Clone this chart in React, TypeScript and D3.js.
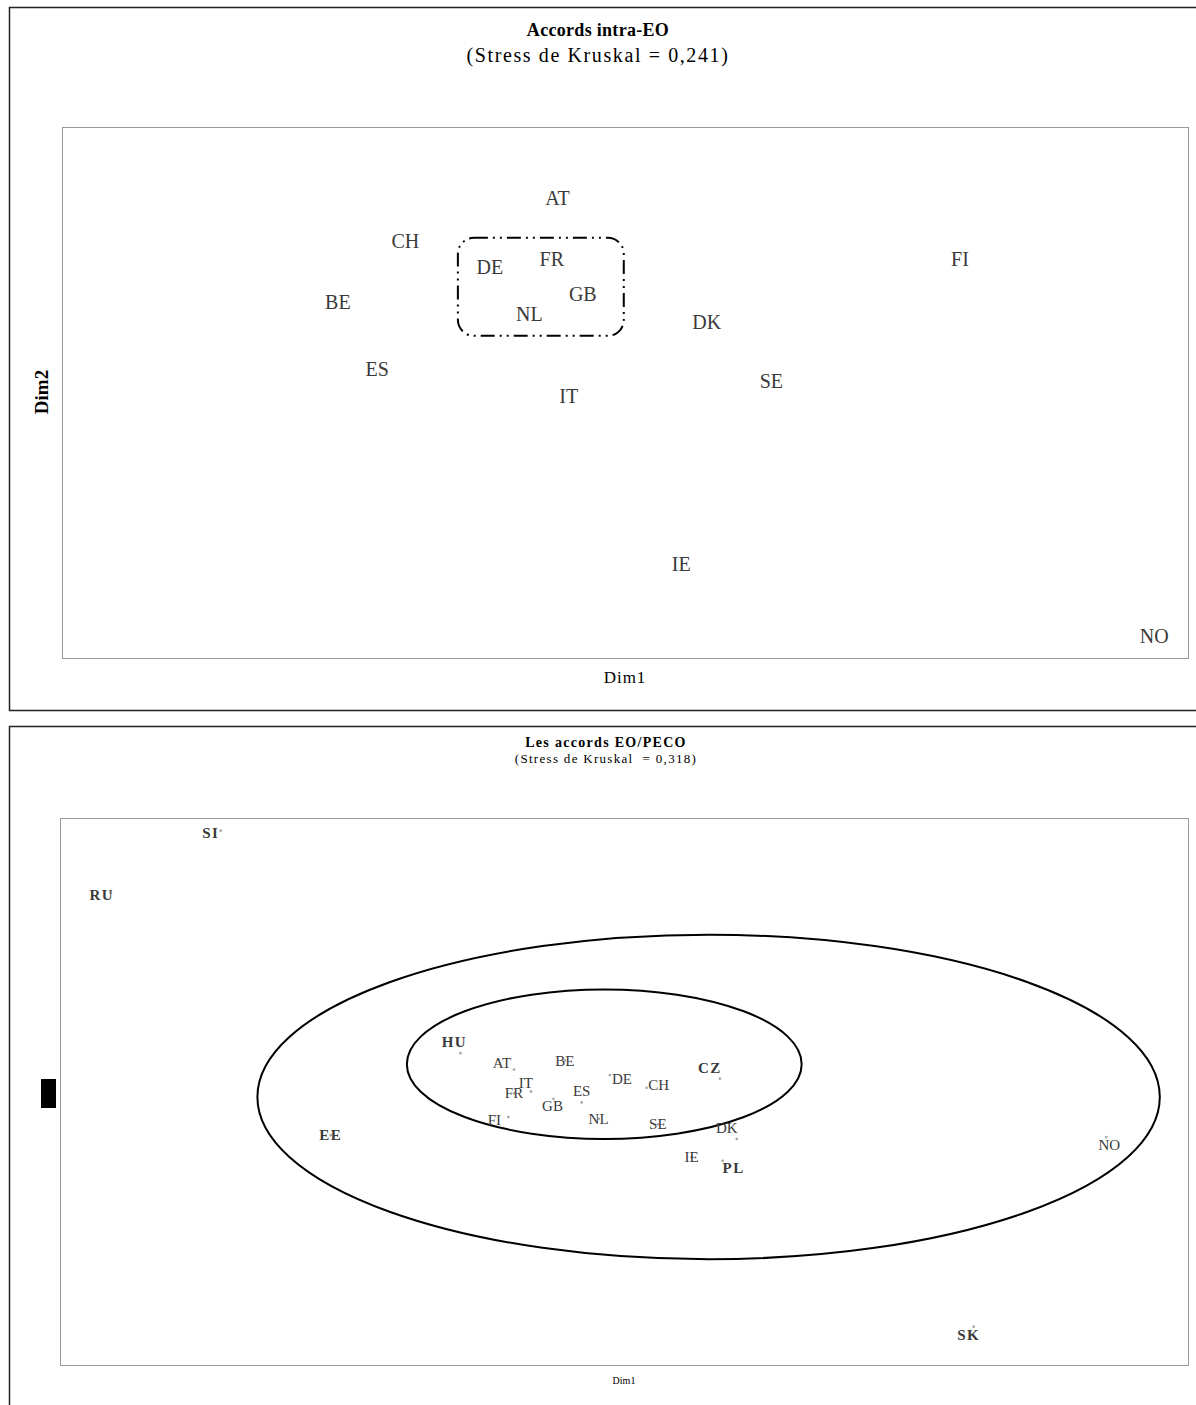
import React, { useEffect, useRef } from 'react';
import * as d3 from 'd3';

// ---- top panel: intra-EO agreements ----
const topNames = ['AT', 'CH', 'DE', 'FR', 'FI', 'BE', 'GB', 'NL', 'DK', 'ES', 'SE', 'IT', 'IE', 'NO'];
const topDim1 = [0.26, -0.28, 0.02, 0.24, 1.69, -0.52, 0.35, 0.16, 0.79, -0.38, 1.02, 0.30, 0.70, 2.38];
const topDim2 = [0.84, 0.62, 0.49, 0.53, 0.53, 0.31, 0.35, 0.25, 0.21, -0.03, -0.09, -0.17, -1.02, -1.39];
const topCluster = ['DE', 'FR', 'GB', 'NL'];

// ---- bottom panel: EO/PECO agreements ----
const botNames = ['SI', 'RU', 'HU', 'AT', 'BE', 'IT', 'FR', 'DE', 'CH', 'CZ', 'ES', 'GB', 'NL', 'SE', 'DK', 'FI', 'EE', 'IE', 'PL', 'NO', 'SK'];
const botDim1 = [-1.43, -1.82, -0.58, -0.39, -0.21, -0.33, -0.39, -0.05, 0.08, 0.34, -0.15, -0.25, -0.09, 0.12, 0.40, -0.41, -1.04, 0.24, 0.35, 1.71, 1.24];
const botDim2 = [1.43, 1.09, 0.21, 0.12, 0.17, 0.00, -0.01, 0.09, 0.02, 0.07, -0.06, -0.04, -0.15, -0.18, -0.26, -0.14, -0.24, -0.36, -0.38, -0.25, -1.29];
const pecoCountries = ['SI', 'RU', 'HU', 'CZ', 'EE', 'PL', 'SK'];
// label offsets from the point (px)
const botLabelDx = [-10, -9, -6, -12, 0, -5, 0, 12, 12, -10, 0, -1, 0, 0, -10, -14, 0, 0, 11, 3, -5];
const botLabelDy = [2, 2, -11, -7, 0, -9, 0, 4, -3, -11, -11, 7, 0, 0, -11, 3, 0, 0, 7, 8, 8];

// ellipses drawn around the groups (data units)
const ellCx = [0.30, -0.07];
const ellCy = [-0.03, 0.15];
const ellRx = [1.60, 0.70];
const ellRy = [0.89, 0.41];

const W = 1196;
const H = 1405;

export default function App() {
  const svgRef = useRef<SVGSVGElement>(null);

  useEffect(() => {
    if (!svgRef.current) return;
    const svg = d3.select(svgRef.current);
    svg.selectAll('*').remove();

    const serif = "'Liberation Serif', 'Times New Roman', serif";
    const labelColor = '#3a3a3a';

    // ========== TOP PANEL ==========
    const t = { left: 62, right: 1188, top: 127, bottom: 658 };
    const tx = d3.scaleLinear().domain([-1.5, 2.5]).range([t.left, t.right]);
    const ty = d3.scaleLinear().domain([-1.5, 1.2]).range([t.bottom, t.top]);

    // outer frame
    svg.append('rect')
      .attr('x', 9.5).attr('y', 7.5)
      .attr('width', 1200).attr('height', 703)
      .attr('fill', 'none').attr('stroke', '#222').attr('stroke-width', 1.5);

    svg.append('rect')
      .attr('x', t.left + 0.5).attr('y', t.top + 0.5)
      .attr('width', t.right - t.left).attr('height', t.bottom - t.top)
      .attr('fill', 'none').attr('stroke', '#999').attr('stroke-width', 1);

    svg.append('text')
      .attr('x', 598).attr('y', 36)
      .attr('text-anchor', 'middle')
      .attr('font-family', serif).attr('font-size', 18).attr('font-weight', 'bold')
      .attr('letter-spacing', 0.3)
      .text('Accords intra-EO');

    svg.append('text')
      .attr('x', 598).attr('y', 62)
      .attr('text-anchor', 'middle')
      .attr('font-family', serif).attr('font-size', 20)
      .attr('letter-spacing', 1.6)
      .text('(Stress de Kruskal = 0,241)');

    svg.append('text')
      .attr('transform', 'translate(48,392) rotate(-90)')
      .attr('text-anchor', 'middle')
      .attr('font-family', serif).attr('font-size', 19).attr('font-weight', 'bold')
      .text('Dim2');

    svg.append('text')
      .attr('x', (t.left + t.right) / 2).attr('y', 683)
      .attr('text-anchor', 'middle')
      .attr('font-family', serif).attr('font-size', 17)
      .attr('letter-spacing', 1)
      .text('Dim1');

    // cluster box around the core countries
    const clusterIdx = topCluster.map(c => topNames.indexOf(c));
    const cxs = clusterIdx.map(i => tx(topDim1[i]));
    const cys = clusterIdx.map(i => ty(topDim2[i]));
    const bx0 = d3.min(cxs)! - 32;
    const bx1 = d3.max(cxs)! + 41;
    const by0 = d3.min(cys)! - 21;
    const by1 = d3.max(cys)! + 22;
    svg.append('rect')
      .attr('x', bx0).attr('y', by0)
      .attr('width', bx1 - bx0).attr('height', by1 - by0)
      .attr('rx', 16).attr('ry', 16)
      .attr('fill', 'none').attr('stroke', '#000').attr('stroke-width', 2)
      .attr('stroke-dasharray', '14,5,2,5,2,5');

    topNames.forEach((name, i) => {
      svg.append('text')
        .attr('x', tx(topDim1[i])).attr('y', ty(topDim2[i]))
        .attr('text-anchor', 'middle')
        .attr('dominant-baseline', 'central')
        .attr('font-family', serif).attr('font-size', 20)
        .attr('fill', labelColor)
        .text(name);
    });

    // ========== BOTTOM PANEL ==========
    const b = { left: 60, right: 1188, top: 818, bottom: 1365 };
    const bx = d3.scaleLinear().domain([-2, 2]).range([b.left, b.right]);
    const by = d3.scaleLinear().domain([-1.5, 1.5]).range([b.bottom, b.top]);

    svg.append('rect')
      .attr('x', 9.5).attr('y', 726.5)
      .attr('width', 1200).attr('height', 720)
      .attr('fill', 'none').attr('stroke', '#222').attr('stroke-width', 1.5);

    svg.append('rect')
      .attr('x', b.left + 0.5).attr('y', b.top + 0.5)
      .attr('width', b.right - b.left).attr('height', b.bottom - b.top)
      .attr('fill', 'none').attr('stroke', '#999').attr('stroke-width', 1);

    svg.append('text')
      .attr('x', 606).attr('y', 747)
      .attr('text-anchor', 'middle')
      .attr('font-family', serif).attr('font-size', 14).attr('font-weight', 'bold')
      .attr('letter-spacing', 1.3)
      .text('Les accords EO/PECO');

    svg.append('text')
      .attr('x', 606).attr('y', 763)
      .attr('text-anchor', 'middle')
      .attr('font-family', serif).attr('font-size', 13)
      .attr('letter-spacing', 1.3)
      .style('white-space', 'pre')
      .text('(Stress de Kruskal  = 0,318)');

    svg.append('text')
      .attr('x', (b.left + b.right) / 2).attr('y', 1384)
      .attr('text-anchor', 'middle')
      .attr('font-family', serif).attr('font-size', 10)
      .text('Dim1');

    // the Dim2 label rendered as a filled block
    svg.append('rect')
      .attr('x', 41).attr('y', 1079)
      .attr('width', 15).attr('height', 29)
      .attr('fill', '#000');

    ellCx.forEach((_, i) => {
      svg.append('ellipse')
        .attr('cx', bx(ellCx[i])).attr('cy', by(ellCy[i]))
        .attr('rx', bx(ellRx[i]) - bx(0)).attr('ry', by(0) - by(ellRy[i]))
        .attr('fill', 'none').attr('stroke', '#000').attr('stroke-width', 2);
    });

    botNames.forEach((name, i) => {
      const px = bx(botDim1[i]);
      const py = by(botDim2[i]);
      svg.append('circle')
        .attr('cx', px).attr('cy', py).attr('r', 1.4)
        .attr('fill', '#aaa');
      const isPeco = pecoCountries.includes(name);
      svg.append('text')
        .attr('x', px + botLabelDx[i]).attr('y', py + botLabelDy[i])
        .attr('text-anchor', 'middle')
        .attr('dominant-baseline', 'central')
        .attr('font-family', serif)
        .attr('font-size', 15)
        .attr('font-weight', isPeco ? 'bold' : 'normal')
        .attr('letter-spacing', isPeco ? 1.5 : 0)
        .attr('fill', labelColor)
        .text(name);
    });
  }, []);

  return (
    <div style={{ position: 'absolute', left: 0, top: 0, width: W, height: H, background: '#fff' }}>
      <svg ref={svgRef} width={W} height={H} style={{ display: 'block' }}></svg>
    </div>
  );
}
